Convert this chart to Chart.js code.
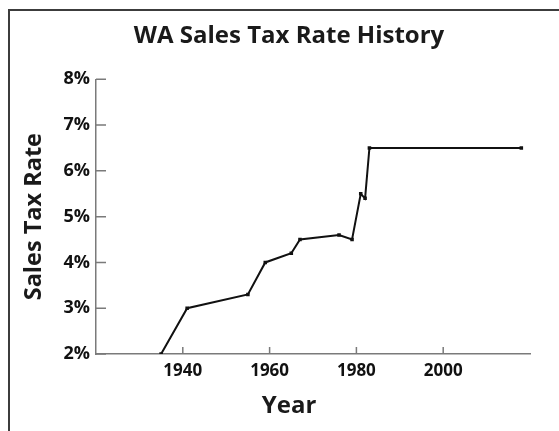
<!DOCTYPE html>
<html>
<head>
<meta charset="utf-8">
<script src="https://cdn.jsdelivr.net/npm/chart.js@4/dist/chart.umd.min.js"></script>
<style>
  html, body { margin: 0; padding: 0; background: #fff; }
  #wrap { position: relative; width: 559px; height: 431px; overflow: hidden; }
  #frame { position: absolute; left: 8px; top: 9px; width: 600px; height: 500px;
           border-left: 2px solid #3c3c3c; border-top: 2px solid #3c3c3c; }
  canvas { position: absolute; left: 0; top: 0; }
</style>
</head>
<body>
<div id="wrap">
  <div id="frame"></div>
  <canvas id="chart" width="559" height="431"></canvas>
</div>
<script>
// WA sales tax rate by year (percent)
const years = [1935, 1941, 1955, 1959, 1965, 1967, 1976, 1979, 1981, 1982, 1983, 2018];
const rates = [2.0, 3.0, 3.3, 4.0, 4.2, 4.5, 4.6, 4.5, 5.5, 5.4, 6.5, 6.5];
const yearTicks = [1940, 1960, 1980, 2000];
const rateTicks = [2, 3, 4, 5, 6, 7, 8];

const font = "'Open Sans', 'Noto Sans', sans-serif";
const axisGray = '#7a7a7a';

// tick marks pointing into the plot
const innerTicks = {
  id: 'innerTicks',
  afterDraw(chart) {
    const { ctx, scales: { x, y } } = chart;
    ctx.save();
    ctx.strokeStyle = axisGray;
    ctx.lineWidth = 1.5;
    ctx.beginPath();
    yearTicks.forEach(v => {
      const px = x.getPixelForValue(v);
      ctx.moveTo(px, x.top);
      ctx.lineTo(px, x.top - 7);
    });
    rateTicks.forEach(v => {
      const py = y.getPixelForValue(v);
      ctx.moveTo(y.right, py);
      ctx.lineTo(y.right + 10, py);
    });
    ctx.stroke();
    ctx.restore();
  },
};

const ctx = document.getElementById('chart').getContext('2d');
new Chart(ctx, {
  type: 'line',
  data: {
    datasets: [{
      data: years.map((y, i) => ({ x: y, y: rates[i] })),
      borderColor: '#111',
      borderWidth: 2,
      pointStyle: 'rect',
      pointRadius: 2.5,
      pointBackgroundColor: '#111',
      pointBorderWidth: 0,
      tension: 0,
      fill: false,
    }],
  },
  plugins: [innerTicks],
  options: {
    responsive: false,
    animation: false,
    layout: { padding: { top: 0, left: 48, right: 29, bottom: 0 } },
    plugins: {
      legend: { display: false },
      tooltip: { enabled: false },
      title: {
        display: true,
        text: 'WA Sales Tax Rate History',
        color: '#1a1a1a',
        font: { family: font, size: 24, weight: 'bold' },
        padding: { top: 22, bottom: 28.5 },
      },
      subtitle: {
        display: true,
        position: 'bottom',
        text: 'Year',
        color: '#1a1a1a',
        font: { family: font, size: 24, weight: 'bold' },
        padding: { top: 0, bottom: 10.5 },
      },
    },
    scales: {
      x: {
        type: 'linear',
        min: 1920,
        max: 2020,
        afterBuildTicks: s => { s.ticks = yearTicks.map(v => ({ value: v })); },
        afterFit: s => { s.height = 37.7; },
        border: { display: true, color: axisGray, width: 1.5 },
        grid: { display: false, drawTicks: false },
        ticks: {
          color: '#111',
          padding: 7,
          maxRotation: 0,
          font: { family: font, size: 17, weight: 'bold' },
          callback: v => String(v),
        },
      },
      y: {
        min: 2,
        max: 8,
        afterBuildTicks: s => { s.ticks = rateTicks.map(v => ({ value: v })); },
        afterFit: s => { s.width = 48; },
        border: { display: true, color: axisGray, width: 1.5 },
        grid: { display: false, drawTicks: false },
        ticks: {
          color: '#111',
          padding: 6,
          font: { family: font, size: 18, weight: 'bold' },
          callback: v => v + '%',
        },
        title: {
          display: true,
          text: 'Sales Tax Rate',
          color: '#1a1a1a',
          font: { family: font, size: 23.5, weight: 'bold' },
          padding: { top: -28, bottom: 0 },
        },
      },
    },
  },
});
</script>
</body>
</html>
